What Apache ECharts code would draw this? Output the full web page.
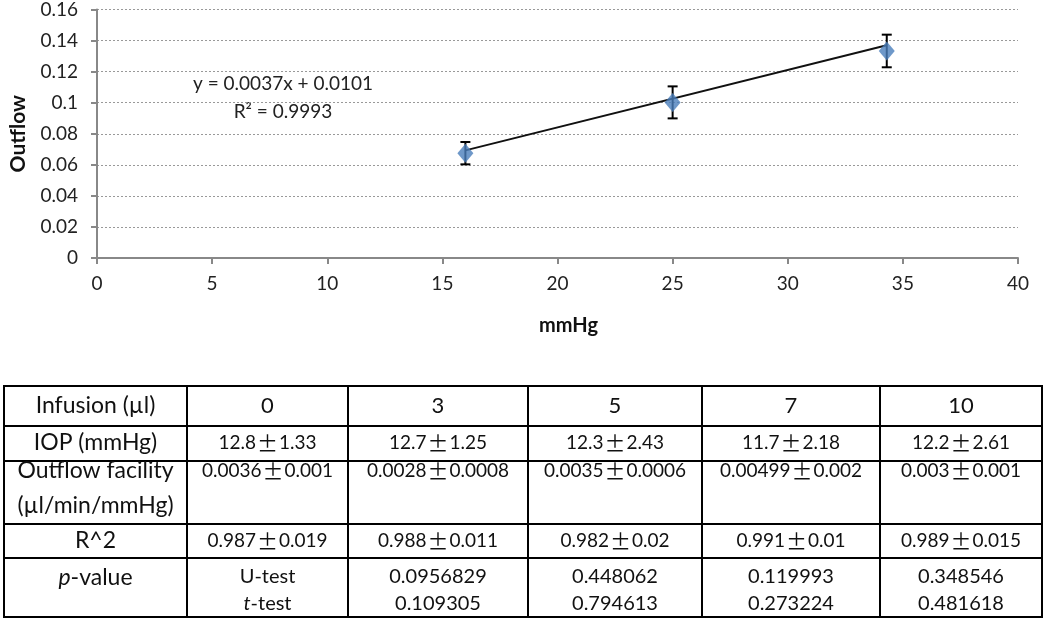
<!DOCTYPE html>
<html><head><meta charset="utf-8">
<script src="https://cdn.jsdelivr.net/npm/echarts@6/dist/echarts.min.js"></script>
<style>html,body{margin:0;padding:0;background:#fff}#c{width:1050px;height:621px}</style>
</head><body><div id="c"></div>
<script>
// Data
const xVals = [16, 25, 34.3];
const yVals = [0.0675, 0.1002, 0.1333];
const yErr = [0.0072, 0.0103, 0.0105];
const slope = 0.0037, intercept = 0.0101;
const eqText = 'y = 0.0037x + 0.0101';
const r2Text = 'R\u00B2 = 0.9993';
const colHeaders = ['Infusion (\u00B5l)', '0', '3', '5', '7', '10'];
const iopRow = ['IOP (mmHg)', '12.8\u00B11.33', '12.7\u00B11.25', '12.3\u00B12.43', '11.7\u00B12.18', '12.2\u00B12.61'];
const facilityRow = ['Outflow facility\n(\u00B5l/min/mmHg)', '0.0036\u00B10.001', '0.0028\u00B10.0008', '0.0035\u00B10.0006', '0.00499\u00B10.002', '0.003\u00B10.001'];
const r2Row = ['R^2', '0.987\u00B10.019', '0.988\u00B10.011', '0.982\u00B10.02', '0.991\u00B10.01', '0.989\u00B10.015'];
const uTest = ['U-test', '0.0956829', '0.448062', '0.119993', '0.348546'];
const tTest = ['t-test', '0.109305', '0.794613', '0.273224', '0.481618'];

const font = 'Lato, "Open Sans", sans-serif';
const chart = echarts.init(document.getElementById('c'));

// table layout
const colX = [4, 187, 348, 528, 702, 880, 1042];
const rowY = [386, 426, 461, 524, 558, 617];
const g = [];
const lineStyle = {stroke: '#000', lineWidth: 2};
colX.forEach(x => g.push({type: 'line', shape: {x1: x, y1: rowY[0], x2: x, y2: rowY[rowY.length - 1]}, style: lineStyle, silent: true}));
rowY.forEach(y => g.push({type: 'line', shape: {x1: colX[0] - 1, y1: y, x2: colX[colX.length - 1] + 1, y2: y}, style: lineStyle, silent: true}));
function cx(i) { return (colX[i] + colX[i + 1]) / 2; }
function txt(t, x, y, size, extra) {
  g.push({type: 'text', x: x, y: y, style: Object.assign({text: t, font: size + 'px ' + font, fill: '#111', align: 'center', verticalAlign: 'middle'}, extra || {}), silent: true});
}
function pm(t, x, y, size) {
  const parts = t.split('\u00B1');
  g.push({type: 'text', x: x, y: y, silent: true, style: {
    text: '{n|' + parts[0] + '}{p|\u00B1}{n|' + parts[1] + '}', align: 'center', verticalAlign: 'middle',
    rich: {n: {fontSize: size, fontFamily: font, fill: '#111'}, p: {fontSize: size + 2, fontFamily: '"Noto Sans CJK JP", sans-serif', fill: '#111', padding: [0, 1]}}
  }});
}
function ital(first, rest, x, y, size) {
  g.push({type: 'text', x: x, y: y, silent: true, style: {
    rich: {i: {fontStyle: 'italic', fontSize: size, fontFamily: font, fill: '#111'}, n: {fontSize: size, fontFamily: font, fill: '#111'}},
    text: '{i|' + first + '}{n|' + rest + '}', align: 'center', verticalAlign: 'middle'}});
}
colHeaders.forEach((t, i) => txt(t, cx(i), 406, i === 0 ? 23 : 22));
iopRow.forEach((t, i) => i === 0 ? txt(t, cx(i), 443, 23) : pm(t, cx(i), 443, 19));
facilityRow.forEach((t, i) => {
  if (i === 0) txt(t, cx(i), 488, 23, {lineHeight: 35});
  else pm(t, cx(i), 471, 19);
});
r2Row.forEach((t, i) => i === 0 ? txt(t, cx(i), 541, 23) : pm(t, cx(i), 541, 19));
ital('p', '-value', cx(0), 578, 23);
uTest.forEach((t, i) => txt(t, cx(i + 1), 577, 20));
tTest.forEach((t, i) => i === 0 ? ital('t', '-test', cx(1), 604, 20) : txt(t, cx(i + 1), 604, 20));

const trendData = [xVals[0], xVals[xVals.length - 1]].map(x => [x, slope * x + intercept]);
const errData = xVals.map((x, i) => [x, yVals[i] - yErr[i], yVals[i] + yErr[i]]);

chart.setOption({
  animation: false,
  textStyle: {fontFamily: font},
  grid: {left: 95, right: 32, top: 9, bottom: 363},
  xAxis: {
    type: 'value', min: 0, max: 40, interval: 5,
    name: 'mmHg', nameLocation: 'middle', nameGap: 58,
    nameTextStyle: {fontWeight: 'bold', fontSize: 20, color: '#111', padding: [0, 0, 0, 22]},
    axisLine: {lineStyle: {color: '#888', width: 2}},
    axisTick: {show: true, length: 6, lineStyle: {color: '#888', width: 2}},
    axisLabel: {fontSize: 19, color: '#222', margin: 16},
    splitLine: {show: false}
  },
  yAxis: {
    type: 'value', min: 0, max: 0.16, interval: 0.02,
    name: 'Outflow', nameLocation: 'middle', nameGap: 68, nameRotate: 90,
    nameTextStyle: {fontWeight: 'bold', fontSize: 21, color: '#111'},
    axisLine: {show: true, lineStyle: {color: '#888', width: 2}},
    axisTick: {show: true, length: 6, lineStyle: {color: '#888', width: 2}},
    axisLabel: {fontSize: 19, color: '#222', margin: 19, formatter: v => String(+v.toFixed(2))},
    splitLine: {lineStyle: {color: '#999', type: [2, 2], width: 1}}
  },
  graphic: g.concat([
    {type: 'text', x: 283, y: 84, style: {text: eqText, font: '19px ' + font, fill: '#222', align: 'center', verticalAlign: 'middle'}},
    {type: 'text', x: 283, y: 112, style: {text: r2Text, font: '19px ' + font, fill: '#222', align: 'center', verticalAlign: 'middle'}}
  ]),
  series: [
    {type: 'line', data: trendData, symbol: 'none', lineStyle: {color: '#111', width: 2}, z: 3},
    {
      type: 'custom', data: errData, z: 4,
      renderItem: function (params, api) {
        const x = api.value(0);
        const lo = api.coord([x, api.value(1)]);
        const hi = api.coord([x, api.value(2)]);
        const w = 5;
        const st = {stroke: '#000', lineWidth: 2};
        return {type: 'group', children: [
          {type: 'line', shape: {x1: lo[0], y1: lo[1], x2: hi[0], y2: hi[1]}, style: st},
          {type: 'line', shape: {x1: lo[0] - w, y1: lo[1], x2: lo[0] + w, y2: lo[1]}, style: st},
          {type: 'line', shape: {x1: hi[0] - w, y1: hi[1], x2: hi[0] + w, y2: hi[1]}, style: st}
        ]};
      }
    },
    {type: 'scatter', data: xVals.map((x, i) => [x, yVals[i]]), symbol: 'diamond', symbolSize: [16, 19], itemStyle: {color: '#4A7EBB'}, z: 5}
  ]
});
</script></body></html>
